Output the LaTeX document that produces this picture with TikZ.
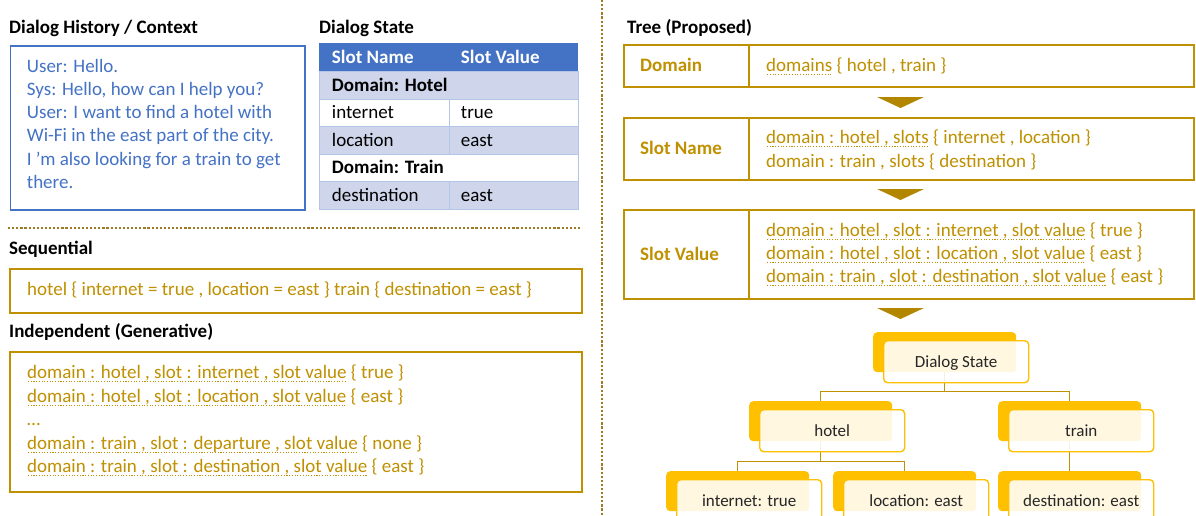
\documentclass[tikz,border=0pt]{standalone}
\usepackage{fontspec}
\setmainfont{Carlito}
\usetikzlibrary{calc}

\definecolor{gold}{HTML}{BF9000}
\definecolor{arrowgold}{HTML}{B38600}
\definecolor{sepgold}{HTML}{9E7B22}
\definecolor{amber}{HTML}{FFC000}
\definecolor{office}{HTML}{4472C4}
\definecolor{rowblue}{HTML}{CFD5EA}
\definecolor{gridblue}{HTML}{B4C6E7}
\definecolor{darktext}{HTML}{262626}

% dotted underline in the current text colour
\newsavebox{\dotbox}
\newcommand\dotul[1]{\sbox\dotbox{#1}\leavevmode\rlap{\raisebox{-3.6pt}{\hbox to \wd\dotbox{\xleaders\hbox to 2.7pt{\hss\rule{1.1pt}{1.1pt}\hss}\hfill}}}\usebox\dotbox}

\tikzset{
  x=1pt, y=-1pt,
  title/.style={anchor=base west, inner sep=0pt, text=black, font=\bfseries\fontsize{19}{23}\selectfont},
  body/.style={anchor=base west, inner sep=0pt, font=\fontsize{19}{23}\selectfont},
  hist/.style={body, text=office},
  gtext/.style={body, text=gold},
  glabel/.style={body, text=gold, font=\bfseries\fontsize{19}{23}\selectfont},
  ttext/.style={body, text=black},
  thead/.style={body, text=white, font=\bfseries\fontsize{19}{23}\selectfont},
  tbold/.style={body, text=black, font=\bfseries\fontsize{19}{23}\selectfont},
  frame/.style={anchor=north west, inner sep=0pt, line width=1.5pt},
  tcell/.style={anchor=north west, inner sep=0pt, draw=gridblue, line width=0.8pt},
  sepline/.style={draw=sepgold, line width=2.2pt, dash pattern=on 2.2pt off 1.9pt},
  stepmark/.style={fill=arrowgold},
  back/.style={anchor=north west, inner sep=0pt, fill=amber, rounded corners=4pt,
               minimum width=143pt, minimum height=40pt},
  front/.style={anchor=north west, inner sep=0pt, draw=amber, line width=1.4pt,
                fill=white, fill opacity=0.88, text opacity=1, rounded corners=4pt,
                minimum width=145pt, minimum height=42pt, text=darktext,
                font=\fontsize{17}{20}\selectfont, text height=12pt, text depth=0pt},
  link/.style={draw=gold, line width=1.2pt},
}

\begin{document}
\begin{tikzpicture}
\useasboundingbox (0,0) rectangle (1196,515);
\clip (0,0) rectangle (1196,515);
\fill[white] (0,0) rectangle (1196,515);

% ---------- dialog history ----------
\node[title] (histtitle) at (9,33) {Dialog History / Context};
\node[frame, draw=office, minimum width=294.5pt, minimum height=164pt] (histbox) at (9.5,45) {};
\node[hist] (h1) at (26.7,72)    {User: Hello.};
\node[hist] (h2) at (26.7,95.3)  {Sys: Hello, how can I help you?};
\node[hist] (h3) at (26.7,118.6) {User: I want to find a hotel with};
\node[hist] (h4) at (26.7,141.9) {Wi-Fi in the east part of the city.};
\node[hist] (h5) at (26.7,165.2) {I ’m also looking for a train to get};
\node[hist] (h6) at (26.7,188.5) {there.};

% ---------- dialog state table ----------
\node[title] (dstitle) at (319,33) {Dialog State};
\node[anchor=north west, inner sep=0pt, fill=office, minimum width=259pt, minimum height=28pt] (thead) at (319,43) {};
\node[tcell, fill=rowblue, minimum width=259pt, minimum height=27.5pt] (rdh) at (319,71) {};
\node[tcell, fill=white, minimum width=130pt, minimum height=27.5pt] (r2a) at (319,98.5) {};
\node[tcell, fill=white, minimum width=129pt, minimum height=27.5pt] (r2b) at (449,98.5) {};
\node[tcell, fill=rowblue, minimum width=130pt, minimum height=27.5pt] (r3a) at (319,126) {};
\node[tcell, fill=rowblue, minimum width=129pt, minimum height=27.5pt] (r3b) at (449,126) {};
\node[tcell, fill=white, minimum width=259pt, minimum height=27.5pt] (rdt) at (319,153.5) {};
\node[tcell, fill=rowblue, minimum width=130pt, minimum height=27.5pt] (r5a) at (319,181) {};
\node[tcell, fill=rowblue, minimum width=129pt, minimum height=27.5pt] (r5b) at (449,181) {};
\node[thead] (c11) at (331.7,63) {Slot Name};
\node[thead] (c12) at (460.7,63) {Slot Value};
\node[tbold] (c21) at (331.7,91) {Domain: Hotel};
\node[ttext] (c31) at (331.7,118.5) {internet};
\node[ttext] (c32) at (460.7,118.5) {true};
\node[ttext] (c41) at (331.7,146) {location};
\node[ttext] (c42) at (460.7,146) {east};
\node[tbold] (c51) at (331.7,173.5) {Domain: Train};
\node[ttext] (c61) at (331.7,201) {destination};
\node[ttext] (c62) at (460.7,201) {east};

% ---------- separators ----------
\draw[sepline] (8,228) -- (582,228);
\draw[sepline] (602,0) -- (602,515);

% ---------- sequential ----------
\node[title] (seqtitle) at (9,254) {Sequential};
\node[frame, draw=gold, minimum width=572pt, minimum height=44pt] (seqbox) at (9.3,268) {};
\node[gtext] (seq) at (27,295) {hotel \{ internet = true , location = east \} train \{ destination = east \}};

% ---------- independent ----------
\node[title] (indtitle) at (9,337) {Independent (Generative)};
\node[frame, draw=gold, minimum width=572pt, minimum height=140pt] (indbox) at (9.3,351) {};
\node[gtext] (i1) at (27,378) {\dotul{domain : hotel , slot : internet , slot value} \{ true \}};
\node[gtext] (i2) at (27,402) {\dotul{domain : hotel , slot : location , slot value} \{ east \}};
\node[gtext] (i3) at (27,425) {…};
\node[gtext] (i4) at (27,449) {\dotul{domain : train , slot : departure , slot value} \{ none \}};
\node[gtext] (i5) at (27,472) {\dotul{domain : train , slot : destination , slot value} \{ east \}};

% ---------- tree ----------
\node[title] (treetitle) at (627,33) {Tree (Proposed)};

\node[frame, draw=gold, minimum width=570pt, minimum height=42pt] (dom) at (623,44) {};
\draw[gold, line width=1.5pt] (749,44) -- (749,86);
\node[glabel] (domlab) at (640,71) {Domain};
\node[gtext] (domtxt) at (766,71) {\dotul{domains} \{ hotel , train \}};

\node[frame, draw=gold, minimum width=570pt, minimum height=62pt] (sn) at (623,117) {};
\draw[gold, line width=1.5pt] (749,117) -- (749,179);
\node[glabel] (snlab) at (640,154) {Slot Name};
\node[gtext] (sn1) at (766,143) {\dotul{domain : hotel , slots} \{ internet , location \}};
\node[gtext] (sn2) at (766,167) {domain : train , slots \{ destination \}};

\node[frame, draw=gold, minimum width=570pt, minimum height=89pt] (sv) at (623,209) {};
\draw[gold, line width=1.5pt] (749,209) -- (749,298);
\node[glabel] (svlab) at (640,260) {Slot Value};
\node[gtext] (sv1) at (766,236) {\dotul{domain : hotel , slot : internet , slot value} \{ true \}};
\node[gtext] (sv2) at (766,259) {\dotul{domain : hotel , slot : location , slot value} \{ east \}};
\node[gtext] (sv3) at (766,282) {\dotul{domain : train , slot : destination , slot value} \{ east \}};

% step markers between the stages
\fill[stepmark] (877,97) -- (924,97) -- (900.5,108) -- cycle;
\fill[stepmark] (877,189) -- (924,189) -- (900.5,200) -- cycle;
\fill[stepmark] (877,308) -- (924,308) -- (900.5,319) -- cycle;

% tree of the dialog state: back plates
\node[back] (ds-b)    at (873,332) {};
\node[back] (hotel-b) at (749,401) {};
\node[back] (train-b) at (998,401) {};
\node[back] (inet-b)  at (666,471) {};
\node[back] (loc-b)   at (833,471) {};
\node[back] (dest-b)  at (998,471) {};

% branches
\coordinate (j1) at ($(ds-b.south)+(0,19)$);
\coordinate (j2) at ($(hotel-b.south)+(0,20)$);
\draw[link] (ds-b.south) -- (j1);
\draw[link] (hotel-b.north) |- (j1) -| (train-b.north);
\draw[link] (hotel-b.south) -- (j2);
\draw[link] (inet-b.north) |- (j2) -| (loc-b.north);
\draw[link] (train-b.south) -- (dest-b.north);

% front cards
\node[front] (ds)    at (883,340) {Dialog State};
\node[front] (hotel) at (759,409) {hotel};
\node[front] (train) at (1008,409) {train};
\node[front] (inet)  at (676,479) {internet: true};
\node[front] (loc)   at (843,479) {location: east};
\node[front] (dest)  at (1008,479) {destination: east};
\end{tikzpicture}
\end{document}
